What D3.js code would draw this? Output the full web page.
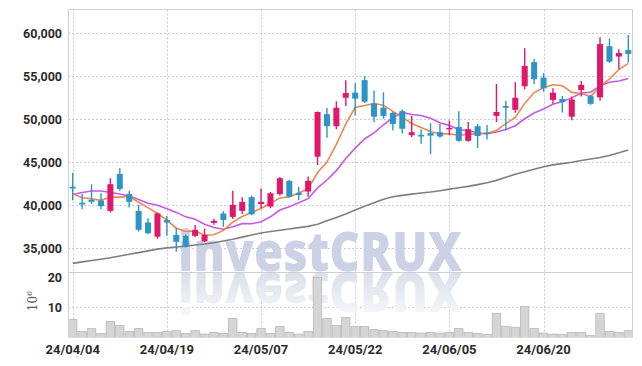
<!DOCTYPE html>
<html>
<head>
<meta charset="utf-8">
<script src="https://cdn.jsdelivr.net/npm/d3@7/dist/d3.min.js"></script>
<style>
  body { margin: 0; background: #fff; }
  text { font-family: Roboto, 'DejaVu Sans', sans-serif; }
</style>
</head>
<body>
<script>
const dates = [
  '24/04/04','24/04/05','24/04/08','24/04/09','24/04/11','24/04/12','24/04/15','24/04/16','24/04/17','24/04/18',
  '24/04/19','24/04/22','24/04/23','24/04/24','24/04/25','24/04/26','24/04/29','24/04/30','24/05/02','24/05/03',
  '24/05/07','24/05/08','24/05/09','24/05/10','24/05/13','24/05/14','24/05/16','24/05/17','24/05/20','24/05/21',
  '24/05/22','24/05/23','24/05/24','24/05/27','24/05/28','24/05/29','24/05/30','24/05/31','24/06/03','24/06/04',
  '24/06/05','24/06/07','24/06/10','24/06/11','24/06/12','24/06/13','24/06/14','24/06/17','24/06/18','24/06/19',
  '24/06/20','24/06/21','24/06/24','24/06/25','24/06/26','24/06/27','24/06/28','24/07/01','24/07/02','24/07/03'
];

const open = [42150,40300,40650,40550,39350,43650,41300,39350,38000,36350,38300,36550,36450,36450,35800,37950,39050,38650,39350,40950,
  40150,39850,41300,42850,41450,41600,45650,50600,49200,52500,53100,54550,51850,51350,50750,50950,48150,48200,48400,48500,
  48900,49100,47500,49200,48450,50400,51550,51100,53850,56650,54850,52250,52350,50300,53400,52700,52550,58500,57300,58050];
const high = [43750,41300,42450,41400,43150,44300,41700,40050,38500,39150,38750,37400,36600,37700,37300,38450,39300,41700,40950,41100,
  41950,41550,43300,42950,42150,43350,50900,51300,52100,54550,54200,55000,53350,53150,50850,51150,50400,48850,49550,49450,
  49850,50950,49700,49450,49350,54100,52150,54300,58250,57000,55350,53600,52700,52650,54450,52850,59550,59400,58150,59800];
const low = [40600,39550,40150,39550,39150,41700,39750,36950,36650,36100,36450,34600,35100,36300,35700,37750,37500,38400,39000,38850,
  39650,39650,41150,40950,40600,41000,44700,47850,48850,51550,50450,51900,49700,50050,48700,48350,47950,47150,45950,47850,
  48150,47400,47400,46650,47650,49700,48700,50750,53500,54100,53200,51800,50800,49900,52650,51700,52150,56550,55850,56600];
const close = [41950,40100,40400,39900,42450,41900,40400,37150,36750,39050,38000,35750,35200,37150,36550,38200,38300,40050,40400,38950,
  40400,41400,43150,41000,41200,42850,50850,49200,51350,53050,52400,52050,50300,50400,49450,48900,48500,48000,48100,48000,
  49000,47500,48850,48050,48350,50850,51350,52500,56200,54650,53600,53100,52000,52300,54000,51800,58750,56700,57700,57600];

const ma5 = [41350,40880,40770,40580,40960,40950,41010,40360,39730,39050,38270,37340,36950,37030,36530,36570,37080,38050,38700,39180,
  39620,40240,40860,40980,41430,41920,43810,45020,47090,49460,51370,51610,51830,51640,50920,50220,49510,49050,48590,48300,
  48320,48120,48290,48280,48350,48720,49490,50220,51850,53110,53660,54010,53910,53130,53000,52640,53770,54710,55790,56510];
const ma10 = [41260,41490,41660,41660,41490,41310,41080,40670,40230,40005,39610,39175,38655,38380,37790,37420,37210,37500,37865,37855,
  38095,38660,39455,39840,40305,40770,42025,42940,44035,45445,46645,47710,48425,49365,50190,50795,50560,50440,50115,49610,
  49270,48815,48670,48435,48325,48520,48805,49255,50065,50730,51190,51750,52065,52490,53055,53150,53890,54310,54460,54755];
const ma60 = [33250,33420,33580,33730,33900,34100,34300,34500,34700,34900,35050,35150,35250,35380,35500,35650,35850,36050,36300,36550,
  36780,36950,37100,37250,37400,37550,37800,38200,38580,39000,39450,39900,40300,40700,41000,41150,41300,41430,41550,41700,
  41880,42050,42200,42400,42620,42900,43250,43600,43900,44200,44480,44700,44850,45000,45200,45380,45560,45800,46100,46420];

const volume = [6.5,3.0,3.8,2.4,5.9,4.7,3.0,3.8,2.7,2.7,3.0,3.2,2.4,3.2,2.2,2.7,2.4,6.8,2.7,2.4,
  3.8,2.4,4.4,2.7,2.2,3.0,18.8,6.8,4.7,7.1,4.4,4.4,3.5,3.2,3.0,2.7,2.7,2.5,2.7,2.5,
  2.7,3.8,2.7,2.4,2.1,8.2,4.5,4.2,10.3,3.8,2.5,2.2,2.1,2.7,2.7,1.8,8.2,3.0,2.7,3.2];

const priceTicks = [35000, 40000, 45000, 50000, 55000, 60000];
const volumeTicks = [10, 20];
const dateTicks = ['24/04/04', '24/04/19', '24/05/07', '24/05/22', '24/06/05', '24/06/20'];

const width = 642;
const height = 366;
const plotLeft = 68, plotRight = 633, plotTop = 9.5, split = 272, plotBottom = 337.5;

const svg = d3.select('body').append('svg')
  .attr('width', width)
  .attr('height', height);

const x = d3.scaleBand()
  .domain(dates)
  .range([plotLeft, plotRight])
  .paddingInner(0.36)
  .paddingOuter(0.18);
const cx = d => x(d) + x.bandwidth() / 2;

const y = d3.scaleLinear().domain([35000, 60000]).range([248.3, 33.3]);
const yv = d3.scaleLinear().domain([1.2, 20]).range([plotBottom, 273.3]);

const candles = dates.map((d, i) => ({ date: d, o: open[i], h: high[i], l: low[i], c: close[i], v: volume[i] }));

const defs = svg.append('defs');
defs.append('clipPath').attr('id', 'priceClip')
  .append('rect').attr('x', plotLeft).attr('y', plotTop).attr('width', plotRight - plotLeft).attr('height', split - plotTop);
defs.append('clipPath').attr('id', 'volClip')
  .append('rect').attr('x', plotLeft).attr('y', split).attr('width', plotRight - plotLeft).attr('height', plotBottom - split);
const fade = defs.append('linearGradient').attr('id', 'fade')
  .attr('gradientUnits', 'userSpaceOnUse')
  .attr('x1', 0).attr('x2', 0).attr('y1', 271).attr('y2', 228);
fade.append('stop').attr('offset', 0).attr('stop-color', '#dcdfea');
fade.append('stop').attr('offset', 1).attr('stop-color', '#f6f7fa');

// grid
const grid = svg.append('g').attr('stroke', '#c6cadf').attr('stroke-dasharray', '2,2').attr('stroke-width', 1);
grid.selectAll('.hp').data(priceTicks).enter().append('line')
  .attr('x1', plotLeft).attr('x2', plotRight)
  .attr('y1', d => Math.round(y(d)) + 0.5).attr('y2', d => Math.round(y(d)) + 0.5);
grid.selectAll('.hv').data(volumeTicks.slice(0, 1)).enter().append('line')
  .attr('x1', plotLeft).attr('x2', plotRight)
  .attr('y1', d => Math.round(yv(d)) + 0.5).attr('y2', d => Math.round(yv(d)) + 0.5);
grid.selectAll('.vx').data(dateTicks).enter().append('line')
  .attr('x1', d => Math.round(cx(d)) + 0.5).attr('x2', d => Math.round(cx(d)) + 0.5)
  .attr('y1', plotTop).attr('y2', plotBottom);

// watermark
const wm = svg.append('g');
wm.append('text')
  .attr('x', 178).attr('y', 271)
  .attr('textLength', 284).attr('lengthAdjust', 'spacingAndGlyphs')
  .style('font-family', "'Open Sans', sans-serif")
  .style('font-weight', 800).style('font-size', '54px')
  .attr('fill', '#ccd1e5')
  .text('investCRUX');
wm.append('text')
  .attr('x', 178).attr('y', 271)
  .attr('transform', `translate(0, ${2 * 272}) scale(1, -1)`)
  .attr('textLength', 284).attr('lengthAdjust', 'spacingAndGlyphs')
  .style('font-family', "'Open Sans', sans-serif")
  .style('font-weight', 800).style('font-size', '54px')
  .attr('fill', 'url(#fade)')
  .text('investCRUX');

// volume
svg.append('g').attr('clip-path', 'url(#volClip)')
  .selectAll('rect').data(candles).enter().append('rect')
  .attr('x', d => cx(d.date) - x.step() / 2 + 0.5)
  .attr('width', x.step() - 1)
  .attr('y', d => yv(d.v))
  .attr('height', d => plotBottom - yv(d.v))
  .attr('fill', '#d5d5d5')
  .attr('stroke', '#b8b8b8')
  .attr('stroke-width', 0.8);

// moving averages
const line = vals => d3.line().x((d, i) => cx(dates[i])).y(d => y(d))(vals);
const lines = svg.append('g').attr('clip-path', 'url(#priceClip)').attr('fill', 'none');
lines.append('path').attr('d', line(ma60)).attr('stroke', '#7f7f7f').attr('stroke-width', 1.6);
lines.append('path').attr('d', line(ma10)).attr('stroke', '#c65ae6').attr('stroke-width', 1.6);
lines.append('path').attr('d', line(ma5)).attr('stroke', '#ef8650').attr('stroke-width', 1.6);

// candles
const up = '#e0186b', down = '#2d95c5';
const candle = svg.append('g').attr('clip-path', 'url(#priceClip)')
  .selectAll('.Candle').data(candles).enter().append('g')
  .attr('class', 'Candle')
  .attr('fill', d => d.c >= d.o ? up : down)
  .attr('stroke', d => d.c >= d.o ? up : down);
candle.append('line')
  .attr('x1', d => cx(d.date)).attr('x2', d => cx(d.date))
  .attr('y1', d => y(d.h)).attr('y2', d => y(d.l))
  .attr('stroke-width', 1.4);
candle.append('rect')
  .attr('x', d => cx(d.date) - x.bandwidth() / 2)
  .attr('width', x.bandwidth())
  .attr('y', d => y(Math.max(d.o, d.c)))
  .attr('height', d => Math.max(1.5, Math.abs(y(d.o) - y(d.c))))
  .attr('stroke', 'none');

// frame
const frame = svg.append('g').attr('stroke', '#cfcfcf').attr('fill', 'none');
frame.append('path').attr('d', `M${plotLeft + 0.5},${plotBottom}V${plotTop}H${plotRight - 0.5}V${plotBottom}`);
frame.append('line').attr('x1', plotLeft).attr('x2', plotRight).attr('y1', split + 0.5).attr('y2', split + 0.5);

// axes labels
const labels = svg.append('g').attr('fill', '#2b2b2b').style('font-size', '12.5px').style('font-weight', 700);
labels.selectAll('.py').data(priceTicks).enter().append('text')
  .attr('x', 62).attr('y', d => y(d)).attr('dy', '0.36em')
  .attr('text-anchor', 'end')
  .text(d => d3.format(',')(d));
labels.selectAll('.vy').data(volumeTicks).enter().append('text')
  .attr('x', 62).attr('y', d => d === 20 ? 277 : yv(d)).attr('dy', '0.36em')
  .attr('text-anchor', 'end')
  .text(d => d);
labels.selectAll('.dx').data(dateTicks).enter().append('text')
  .attr('x', d => cx(d)).attr('y', 349).attr('dy', '0.36em')
  .attr('text-anchor', 'middle')
  .style('font-size', '13px')
  .text(d => d);

const unit = svg.append('text')
  .attr('transform', 'translate(37, 301) rotate(-90)')
  .attr('text-anchor', 'middle')
  .attr('fill', '#555')
  .style('font-family', "'DejaVu Serif', serif")
  .style('font-size', '12px');
unit.append('tspan').text('10');
unit.append('tspan').attr('dy', -5).style('font-size', '8px').text('6');
</script>
</body>
</html>
